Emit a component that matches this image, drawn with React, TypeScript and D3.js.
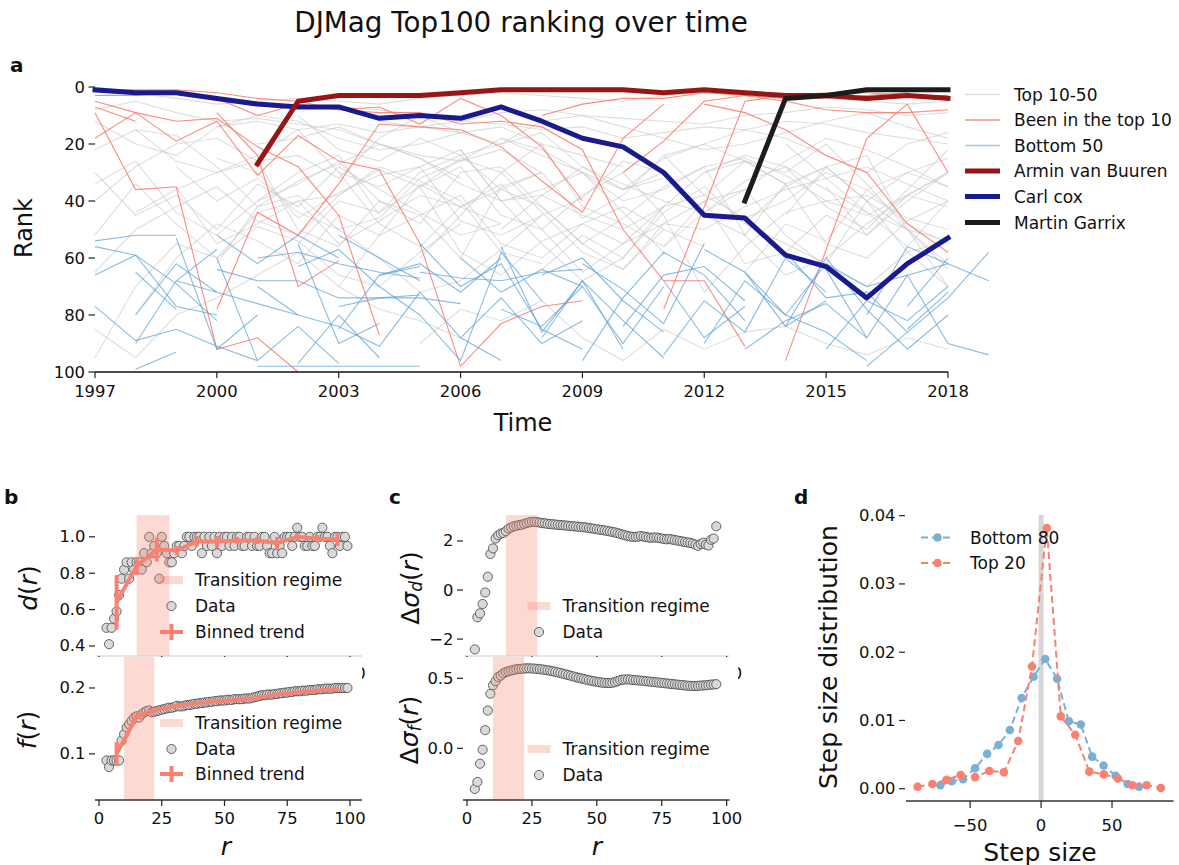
import React from "react";
import * as d3 from "d3";

const FONT = "'DejaVu Sans', sans-serif";
const SALMON = "#fa8072";
const TICK_FS = 16.4;
const LEG_FS = 17;
const LABEL_FS = 25;

// ---------- panel a: ranking over time ----------
const yearTicks = [1997, 2000, 2003, 2006, 2009, 2012, 2015, 2018];
const rankTicks = [0, 20, 40, 60, 80, 100];

// each row: [first year, rank, rank, ...]
const arminRow = [2001, 27, 5, 3, 3, 3, 2, 1, 1, 1, 1, 2, 1, 2, 3, 3, 4, 3, 4];
const carlRow = [1997, 1, 2, 2, 4, 6, 7, 7, 11, 10, 11, 7, 12, 18, 21, 30, 45, 46, 59, 63, 74, 62, 53];
const garrixRow = [2013, 40, 4, 3, 1, 1, 1];

const top1050Rows = [
  [1997, 22, 15, 26, 30, 24, 15, 30, 35, 28, 22, 40, 38, 45, 50, 42],
  [1997, 30, 45, 38, 50, 34, 42, 28, 36, 44, 52, 48],
  [1997, 40, 28, 20, 18, 26, 24, 32, 18, 10, 16, 14, 20, 24, 28],
  [1997, 52, 34, 48, 60, 44, 40, 55, 47, 38, 42],
  [1997, 65, 50, 42, 35, 47, 52, 38, 28, 33, 40, 58, 62],
  [1997, 95, 70, 55, 60, 49, 54, 66, 70, 58, 48],
  [1997, 12, 20, 24, 14, 10, 12, 18, 22, 20, 16],
  [1997, 8, 5, 9, 12, 11, 13, 15, 20, 24, 26, 18, 24, 30],
  [1997, 3, 2, 4, 6, 5, 4, 5, 6, 4, 3, 2, 3, 4, 5, 3, 2, 2, 3, 4, 5, 6, 5],
  [1997, 85, 95, 80, 74, 66, 58, 70, 78, 82, 88],
  [1997, 34, 26, 44, 52, 40, 30, 24, 45],
  [1998, 15, 17, 28, 42, 33, 27, 20, 25, 32],
  [1998, 44, 36, 30, 26, 50, 56, 40, 45, 60, 35, 30],
  [1998, 80, 60, 48, 54, 62, 45, 52, 34, 42, 48],
  [1999, 35, 55, 48, 40, 38, 29, 35, 58, 66, 54, 48],
  [1999, 28, 40, 32, 44, 50, 46, 32, 26, 22, 30],
  [2000, 25, 30, 46, 37, 31, 28, 47, 52, 45, 39, 26, 30],
  [2000, 62, 42, 38, 50, 60, 72, 68, 57, 45],
  [2000, 14, 12, 15, 13, 16, 14, 12, 13, 15, 14, 18, 16, 14, 15, 12, 13, 16, 18, 20],
  [2001, 40, 34, 26, 40, 48, 30, 28, 42, 55, 64, 50],
  [2001, 20, 18, 14, 20, 25, 34, 40, 36, 30, 44, 58],
  [2002, 55, 40, 44, 35, 28, 45, 50, 65, 55, 48, 40],
  [2002, 10, 22, 26, 18, 24, 20, 16, 28, 36, 32],
  [2003, 30, 48, 56, 42, 36, 30, 46, 38, 24, 20, 26, 34],
  [2003, 70, 52, 45, 38, 55, 60, 48, 42, 50, 56],
  [2003, 7, 8, 10, 12, 9, 8, 10, 11, 12, 13, 10, 9, 7, 8, 10, 9],
  [2004, 44, 30, 24, 36, 42, 55, 46, 35, 28, 25, 31, 40, 45, 38, 30],
  [2004, 12, 14, 16, 20, 12, 10, 14, 18, 22, 20, 16, 12, 9, 14, 18],
  [2005, 60, 45, 30, 20, 42, 48, 56, 40, 36, 52, 63, 70, 58, 54],
  [2005, 35, 25, 30, 44, 58, 64, 48, 50, 42, 36, 32, 28, 34, 40],
  [2005, 90, 78, 82, 75, 88, 96, 85, 92, 86, 84, 90, 94, 88, 92],
  [2006, 42, 34, 50, 38, 30, 45, 72, 56, 44, 40, 38, 46, 50],
  [2006, 22, 40, 55, 68, 60, 42, 30, 24, 28, 36, 44, 50, 54],
  [2007, 50, 38, 28, 34, 40, 44, 36, 26, 18, 22, 28, 35],
  [2007, 18, 22, 30, 36, 25, 20, 15, 18, 24, 30, 20, 16],
  [2008, 64, 52, 60, 44, 35, 48, 55, 62, 40, 30, 35],
  [2009, 30, 40, 36, 28, 52, 66, 60, 48, 38, 42],
  [2009, 48, 55, 42, 38, 26, 30, 20, 34, 50, 64],
  [2010, 36, 30, 45, 52, 34, 28, 40, 58, 70],
  [2011, 24, 38, 46, 40, 30, 36, 48, 55],
  [2011, 56, 44, 33, 28, 42, 50, 36, 22],
  [2012, 40, 62, 58, 45, 52, 38, 30],
  [2012, 30, 26, 34, 55, 60, 47, 40],
  [2013, 48, 35, 28, 40, 50, 62],
  [2013, 65, 48, 54, 36, 30, 25],
  [2014, 20, 32, 44, 56, 40],
  [2014, 45, 28, 24, 50, 70],
  [2015, 35, 52, 40, 30],
];

const top10Rows = [
  [1997, 1, 1, 1, 2, 4, 5, 8, 9, 9, 13, 12, 14, 22, 50, 68, 68, 91],
  [1997, 3, 3, 2, 4, 10, 6, 8, 7, 13, 4, 10, 21, 40],
  [1997, 5, 9, 12, 11, 21, 28, 45, 87],
  [1997, 18, 9, 19, 12, 31, 17, 26, 29, 55, 98, 83, 77, 75],
  [1997, 9, 36, 35, 92, 88, 100],
  [1997, 7, 12],
  [2000, 9, 24, 70, 61],
  [2000, 78, 44, 52, 34, 13, 14, 15, 21, 33, 44, 18, 6],
  [2008, 10, 6, 4, 4, 2, 3, 5, 8, 9, 9, 8],
  [2011, 78, 42, 5, 3, 2, 2, 3, 3],
  [2012, 6, 9, 15, 24, 30, 48, 58],
  [2014, 96, 57, 18, 6, 30],
  [2010, 30, 19, 5, 3, 4, 4, 3, 2],
];

const bottom50Rows = [
  [1997, 54, 52, 52],
  [1997, 56, 59, 77, 80],
  [1997, 66, 59, 69, 82],
  [1997, 77, 89, 85, 91, 96],
  [1998, 65, 78],
  [1998, 90, 68, 57],
  [1998, 99, 93],
  [1998, 80, 62, 72],
  [1999, 53, 92, 80],
  [1999, 68, 72, 76, 80, 84, 91],
  [2000, 52, 62, 52, 60],
  [2000, 60, 96, 84, 97],
  [2000, 64, 68, 68, 74, 74, 73],
  [2001, 60, 58, 62, 65, 67],
  [2001, 98, 98, 98, 98, 98],
  [2001, 70, 80],
  [2002, 55, 90, 83],
  [2002, 97, 80, 95],
  [2002, 63, 57, 70, 80],
  [2003, 77, 74, 74, 76],
  [2003, 85, 66, 63],
  [2003, 52, 60, 68],
  [2004, 66, 62, 72, 60],
  [2004, 91, 72, 88, 96],
  [2005, 55, 70, 62, 85, 92],
  [2005, 80, 96, 58, 75],
  [2005, 65, 67, 68, 65, 64],
  [2006, 88, 74, 90, 82],
  [2006, 60, 72, 64, 70],
  [2007, 56, 86, 68, 92],
  [2007, 78, 84, 70, 90, 70],
  [2008, 66, 60, 75, 86],
  [2008, 88, 68, 82, 95],
  [2009, 62, 71, 83, 55],
  [2009, 96, 74, 58, 66, 82],
  [2010, 84, 66, 63, 75],
  [2011, 68, 88, 77],
  [2011, 94, 75, 86, 60, 72],
  [2012, 57, 65, 84, 75],
  [2012, 90, 68, 80, 86, 96],
  [2013, 65, 80, 62, 70],
  [2013, 92, 82, 76, 88],
  [2014, 58, 74, 72, 86],
  [2014, 84, 60, 78, 92, 80],
  [2015, 64, 88, 66, 62],
  [2015, 92, 75, 82, 70],
  [2016, 80, 56, 62, 68],
  [2016, 98, 86, 74, 58],
  [2016, 70, 66, 90, 94],
  [2017, 77, 60],
  [2017, 85, 72],
];

// ---------- panel b ----------
const rTicks = [0, 25, 50, 75, 100];
const rB = d3.range(3, 100);
const dValues = [
  0.50, 0.41, 0.50, 0.55, 0.59, 0.68, 0.77, 0.82, 0.86, 0.77,
  0.86, 0.82, 0.86, 0.86, 0.82, 0.91, 0.86, 1.00, 0.91, 0.95,
  0.91, 0.77, 1.00, 0.95, 0.91, 0.86, 0.86, 0.91, 0.95, 0.95,
  0.91, 0.95, 1.00, 1.00, 0.95, 1.00, 1.00, 1.00, 0.91, 1.00,
  0.95, 1.00, 0.95, 1.00, 0.91, 1.00, 0.95, 1.00, 1.00, 0.95,
  1.00, 0.95, 1.00, 1.00, 0.95, 0.95, 1.00, 1.00, 0.95, 1.00,
  0.95, 0.95, 1.00, 1.00, 0.95, 0.91, 0.91, 1.00, 0.91, 0.95,
  0.91, 1.00, 1.00, 1.00, 0.95, 1.00, 1.05, 1.00, 1.00, 0.95,
  0.95, 1.00, 0.95, 0.95, 1.00, 1.00, 1.05, 1.00, 1.00, 0.95,
  0.91, 1.00, 1.00, 0.95, 1.00, 1.00, 0.95,
];
const fValues = [
  0.09, 0.08, 0.09, 0.09, 0.09, 0.09, 0.12, 0.13, 0.14, 0.145,
  0.15, 0.155, 0.157, 0.155, 0.16, 0.163, 0.165, 0.166, 0.163, 0.164,
  0.165, 0.166, 0.167, 0.168, 0.169, 0.17, 0.17, 0.171, 0.173, 0.172,
  0.172, 0.173, 0.174, 0.174, 0.175, 0.176, 0.176, 0.177, 0.177, 0.178,
  0.178, 0.179, 0.179, 0.18, 0.18, 0.181, 0.181, 0.181, 0.182, 0.182,
  0.182, 0.183, 0.183, 0.183, 0.183, 0.184, 0.184, 0.184, 0.185, 0.186,
  0.187, 0.188, 0.189, 0.189, 0.19, 0.19, 0.19, 0.191, 0.191, 0.192,
  0.192, 0.193, 0.193, 0.194, 0.194, 0.195, 0.195, 0.195, 0.196, 0.196,
  0.196, 0.197, 0.197, 0.197, 0.198, 0.198, 0.198, 0.199, 0.199, 0.199,
  0.199, 0.2, 0.2, 0.2, 0.2, 0.2, 0.2,
];
const binR = [7, 15, 23, 31, 39, 47, 55, 63, 71, 79, 87, 95];
const binD = [0.64, 0.84, 0.93, 0.925, 0.975, 0.975, 0.98, 0.98, 0.965, 1.0, 0.99, 0.985];
const binDErr = [0.15, 0.05, 0.065, 0.025, 0.03, 0.03, 0.02, 0.02, 0.035, 0.02, 0.02, 0.035];
const binF = [0.1, 0.157, 0.167, 0.173, 0.177, 0.18, 0.182, 0.185, 0.19, 0.193, 0.196, 0.198];
const binFErr = [0.018, 0.004, 0.003, 0.002, 0.002, 0.002, 0.002, 0.002, 0.002, 0.002, 0.002, 0.002];
const regimeUpper = [15, 28];
const regimeLower = [10, 22];

// ---------- panel c ----------
const rC = d3.range(3, 97);
const sigmaD = [
  -2.42, -1.11, -0.95, -0.57, -0.10, 0.54, 1.47, 1.70, 2.10, 2.23,
  2.30, 2.33, 2.40, 2.50, 2.55, 2.60, 2.62, 2.65, 2.66, 2.70,
  2.73, 2.76, 2.78, 2.78, 2.77, 2.75, 2.73, 2.72, 2.70, 2.69,
  2.68, 2.67, 2.66, 2.65, 2.64, 2.63, 2.62, 2.61, 2.60, 2.59,
  2.58, 2.57, 2.56, 2.55, 2.53, 2.51, 2.50, 2.48, 2.46, 2.45,
  2.43, 2.41, 2.39, 2.37, 2.35, 2.32, 2.29, 2.26, 2.23, 2.20,
  2.18, 2.17, 2.17, 2.18, 2.20, 2.18, 2.16, 2.14, 2.13, 2.14,
  2.14, 2.12, 2.10, 2.08, 2.07, 2.08, 2.06, 2.04, 2.02, 2.00,
  1.98, 1.96, 1.94, 1.92, 1.89, 1.85, 1.80, 1.88, 1.93, 1.85,
  1.82, 2.05, 2.10, 2.60,
];
const sigmaF = [
  -0.29, -0.24, -0.11, -0.01, 0.13, 0.27, 0.39, 0.45, 0.48, 0.51,
  0.52, 0.535, 0.545, 0.55, 0.555, 0.56, 0.565, 0.567, 0.568, 0.57,
  0.571, 0.571, 0.57, 0.569, 0.567, 0.565, 0.563, 0.56, 0.557, 0.554,
  0.55, 0.546, 0.542, 0.538, 0.533, 0.528, 0.523, 0.518, 0.513, 0.508,
  0.503, 0.499, 0.495, 0.49, 0.486, 0.482, 0.478, 0.475, 0.472, 0.469,
  0.467, 0.466, 0.466, 0.468, 0.473, 0.48, 0.487, 0.49, 0.492, 0.492,
  0.49, 0.488, 0.487, 0.485, 0.483, 0.481, 0.479, 0.477, 0.475, 0.473,
  0.471, 0.469, 0.467, 0.465, 0.463, 0.461, 0.459, 0.457, 0.455, 0.453,
  0.451, 0.449, 0.447, 0.446, 0.445, 0.445, 0.446, 0.448, 0.449, 0.45,
  0.452, 0.455, 0.456, 0.458,
];

// ---------- panel d ----------
const bottom80Steps = [-71, -63, -55, -46.5, -38, -30, -22, -13.7, -5.3, 2.9, 11.3, 19.5, 28, 36, 44, 52.5, 61, 69];
const bottom80Dens = [0.0005, 0.0011, 0.0014, 0.003, 0.0051, 0.0064, 0.0086, 0.0133, 0.0164, 0.019, 0.0161, 0.0099, 0.0094, 0.0047, 0.0034, 0.0019, 0.0007, 0.0003];
const top20Steps = [-87, -76.6, -66.6, -56.7, -46.5, -36.4, -26.2, -16.1, -6.4, 4, 13.9, 24.1, 34, 44.2, 54.2, 64.3, 74.4, 84.4];
const top20Dens = [0.0003, 0.0007, 0.0013, 0.002, 0.0017, 0.0026, 0.0024, 0.007, 0.0179, 0.0382, 0.0106, 0.0079, 0.0025, 0.0021, 0.0015, 0.0005, 0.0005, 0.0001];
const stepTicks = [-50, 0, 50];
const densTicks = [0, 0.01, 0.02, 0.03, 0.04];

const minus = (s: string) => s.replace("-", "\u2212");

type Scale = d3.ScaleLinear<number, number>;

function LeftTicks({ scale, values, x0, fmt, len = 6 }: { scale: Scale; values: number[]; x0: number; fmt: (v: number) => string; len?: number }) {
  return (
    <g>
      {values.map((v) => (
        <g key={v}>
          <line x1={x0 - len} x2={x0} y1={scale(v)} y2={scale(v)} stroke="#222" strokeWidth={1.2} />
          <text x={x0 - len - 3.5} y={scale(v)} textAnchor="end" dominantBaseline="central" fontSize={TICK_FS}>
            {fmt(v)}
          </text>
        </g>
      ))}
    </g>
  );
}

function BottomTicks({ scale, values, y0, fmt, len = 6, gap = 19 }: { scale: Scale; values: number[]; y0: number; fmt: (v: number) => string; len?: number; gap?: number }) {
  return (
    <g>
      {values.map((v) => (
        <g key={v}>
          <line x1={scale(v)} x2={scale(v)} y1={y0} y2={y0 + len} stroke="#222" strokeWidth={1.2} />
          <text x={scale(v)} y={y0 + gap} textAnchor="middle" dominantBaseline="central" fontSize={TICK_FS}>
            {fmt(v)}
          </text>
        </g>
      ))}
    </g>
  );
}

function Dots({ xs, ys, x, y }: { xs: number[]; ys: number[]; x: Scale; y: Scale }) {
  return (
    <g>
      {xs.map((r, i) => (
        <circle key={r} cx={x(r)} cy={y(ys[i])} r={4.6} fill="#d9d9d9" stroke="#454545" strokeWidth={0.8} />
      ))}
    </g>
  );
}

function Binned({ xs, ys, errs, x, y }: { xs: number[]; ys: number[]; errs: number[]; x: Scale; y: Scale }) {
  const path = d3.line<number>().x((r) => x(r)).y((_, i) => y(ys[i]))(xs) || "";
  return (
    <g stroke={SALMON} strokeWidth={4} fill="none">
      <path d={path} strokeLinejoin="round" />
      {xs.map((r, i) => (
        <line key={r} x1={x(r)} x2={x(r)} y1={y(ys[i] - errs[i])} y2={y(ys[i] + errs[i])} />
      ))}
    </g>
  );
}

function Legend({ x, ys, labels, kinds }: { x: number; ys: number[]; labels: string[]; kinds: string[] }) {
  return (
    <g>
      {labels.map((lab, i) => {
        const cy = ys[i];
        let handle: React.ReactNode = null;
        if (kinds[i] === "band") {
          handle = <rect x={x} y={cy - 4} width={23} height={8} fill={SALMON} opacity={0.3} />;
        } else if (kinds[i] === "dot") {
          handle = <circle cx={x + 11.5} cy={cy} r={4.6} fill="#d9d9d9" stroke="#454545" strokeWidth={0.8} />;
        } else {
          handle = (
            <g stroke={SALMON} strokeWidth={4}>
              <line x1={x} x2={x + 23} y1={cy} y2={cy} />
              <line x1={x + 11.5} x2={x + 11.5} y1={cy - 8} y2={cy + 8} />
            </g>
          );
        }
        return (
          <g key={lab}>
            {handle}
            <text x={x + 35} y={cy} dominantBaseline="central" fontSize={LEG_FS}>
              {lab}
            </text>
          </g>
        );
      })}
    </g>
  );
}

function Band({ x, lo, hi, top, bottom }: { x: Scale; lo: number; hi: number; top: number; bottom: number }) {
  return <rect x={x(lo)} y={top} width={x(hi) - x(lo)} height={bottom - top} fill={SALMON} opacity={0.3} />;
}

export default function App() {
  // panel a scales
  const xa = d3.scaleLinear().domain([1997, 2018]).range([95, 948]);
  const ya = d3.scaleLinear().domain([0, 100]).range([87, 372]);
  const rowPath = (row: number[]) =>
    d3.line()(row.slice(1).map((r, i) => [xa(row[0] + i), ya(r)] as [number, number])) || "";

  // panel b scales
  const xb = d3.scaleLinear().domain([-1.6, 104.8]).range([95, 362]);
  const ybU = d3.scaleLinear().domain([0.345, 1.12]).range([656, 515]);
  const ybL = d3.scaleLinear().domain([0.03, 0.247]).range([800, 657]);

  // panel c scales
  const xc = d3.scaleLinear().domain([-1.55, 101.1]).range([463, 729.5]);
  const ycU = d3.scaleLinear().domain([-2.69, 3.06]).range([656, 515]);
  const ycL = d3.scaleLinear().domain([-0.369, 0.652]).range([800, 657]);

  // panel d scales
  const xd = d3.scaleLinear().domain([-95.2, 93.4]).range([906, 1173.6]);
  const yd = d3.scaleLinear().domain([-0.0018, 0.0401]).range([801, 515]);
  const lineD = (xs: number[], ys: number[]) =>
    d3.line<number>().x((s) => xd(s)).y((_, i) => yd(ys[i]))(xs) || "";

  const legendA = [
    { label: "Top 10-50", color: "#c8c8c8", w: 1.5, op: 0.55 },
    { label: "Been in the top 10", color: SALMON, w: 1.5, op: 0.9 },
    { label: "Bottom 50", color: "#5a9fd4", w: 1.5, op: 0.55 },
    { label: "Armin van Buuren", color: "#961616", w: 5, op: 1 },
    { label: "Carl cox", color: "#1a1a8f", w: 5, op: 1 },
    { label: "Martin Garrix", color: "#1c1c1c", w: 5, op: 1 },
  ];
  const legendAY = [94.5, 120, 145.5, 171, 196.5, 222.5];

  const f1 = (v: number) => v.toFixed(1);
  const f0 = (v: number) => minus(String(v));
  const f2 = (v: number) => v.toFixed(2);
  const fr = (v: number) => String(v);

  return (
    <svg
      width={1179}
      height={865}
      style={{ position: "absolute", left: 0, top: 0, background: "#fff" }}
      fontFamily={FONT}
      fill="#111"
    >
      <rect x={0} y={0} width={1179} height={865} fill="#fff" />
      <text x={521} y={22} textAnchor="middle" dominantBaseline="central" fontSize={27.8}>
        DJMag Top100 ranking over time
      </text>

      {/* ---------------- panel a ---------------- */}
      <text x={10} y={65} dominantBaseline="central" fontSize={20} fontWeight="bold">a</text>
      <g fill="none">
        {top1050Rows.map((row, i) => (
          <path key={"g" + i} d={rowPath(row)} stroke="#c8c8c8" strokeWidth={1.1} opacity={0.6} />
        ))}
        {top10Rows.map((row, i) => (
          <path key={"r" + i} d={rowPath(row)} stroke={SALMON} strokeWidth={1.1} opacity={0.9} />
        ))}
        {bottom50Rows.map((row, i) => (
          <path key={"b" + i} d={rowPath(row)} stroke="#5a9fd4" strokeWidth={1.1} opacity={0.7} />
        ))}
        <path d={rowPath(carlRow)} stroke="#1a1a8f" strokeWidth={5} strokeLinejoin="round" strokeLinecap="square" />
        <path d={rowPath(arminRow)} stroke="#961616" strokeWidth={5} strokeLinejoin="round" strokeLinecap="square" />
        <path d={rowPath(garrixRow)} stroke="#1c1c1c" strokeWidth={5} strokeLinejoin="round" strokeLinecap="square" />
      </g>
      <line x1={95} x2={948} y1={372} y2={372} stroke="#111" strokeWidth={1.3} />
      <LeftTicks scale={ya} values={rankTicks} x0={95} fmt={fr} len={6.5} />
      <BottomTicks scale={xa} values={yearTicks} y0={372} fmt={fr} gap={19.5} />
      <text x={523} y={423} textAnchor="middle" dominantBaseline="central" fontSize={24}>Time</text>
      <text x={24} y={228} textAnchor="middle" dominantBaseline="central" fontSize={24} transform="rotate(-90,24,228)">
        Rank
      </text>
      {legendA.map((l, i) => (
        <g key={l.label}>
          <line x1={965} x2={1000} y1={legendAY[i]} y2={legendAY[i]} stroke={l.color} strokeWidth={l.w} opacity={l.op} />
          <text x={1014} y={legendAY[i]} dominantBaseline="central" fontSize={LEG_FS}>{l.label}</text>
        </g>
      ))}

      {/* ---------------- panel b ---------------- */}
      <text x={4} y={497} dominantBaseline="central" fontSize={20} fontWeight="bold">b</text>
      {/* upper: d(r) */}
      <Dots xs={rB} ys={dValues} x={xb} y={ybU} />
      <Band x={xb} lo={regimeUpper[0]} hi={regimeUpper[1]} top={515} bottom={656} />
      <Binned xs={binR} ys={binD} errs={binDErr} x={xb} y={ybU} />
      <line x1={95} x2={362} y1={656} y2={656} stroke="#cfcfcf" strokeWidth={1} />
      <LeftTicks scale={ybU} values={[0.4, 0.6, 0.8, 1.0]} x0={95} fmt={f1} />
      <BottomTicks scale={xb} values={rTicks} y0={656} fmt={fr} gap={17} />
      <Legend x={160} ys={[580, 606, 632]} labels={["Transition regime", "Data", "Binned trend"]} kinds={["band", "dot", "bin"]} />
      <text x={28} y={588} textAnchor="middle" dominantBaseline="central" fontSize={LABEL_FS} transform="rotate(-90,28,588)">
        <tspan fontStyle="italic">d</tspan>(<tspan fontStyle="italic">r</tspan>)
      </text>
      {/* lower: f(r) */}
      <rect x={89} y={657} width={273} height={143} fill="#fff" />
      <Dots xs={rB} ys={fValues} x={xb} y={ybL} />
      <Band x={xb} lo={regimeLower[0]} hi={regimeLower[1]} top={657} bottom={800} />
      <Binned xs={binR} ys={binF} errs={binFErr} x={xb} y={ybL} />
      <line x1={95} x2={362} y1={800} y2={800} stroke="#333" strokeWidth={1.3} />
      <LeftTicks scale={ybL} values={[0.1, 0.2]} x0={95} fmt={f1} />
      <BottomTicks scale={xb} values={rTicks} y0={800} fmt={fr} gap={18} />
      <Legend x={160} ys={[723, 749, 774]} labels={["Transition regime", "Data", "Binned trend"]} kinds={["band", "dot", "bin"]} />
      <text x={27} y={730} textAnchor="middle" dominantBaseline="central" fontSize={LABEL_FS} transform="rotate(-90,27,730)">
        <tspan fontStyle="italic">f</tspan>(<tspan fontStyle="italic">r</tspan>)
      </text>
      <text x={226} y={846} textAnchor="middle" dominantBaseline="central" fontSize={LABEL_FS} fontStyle="italic">r</text>

      {/* ---------------- panel c ---------------- */}
      <text x={389} y={497} dominantBaseline="central" fontSize={20} fontWeight="bold">c</text>
      <Dots xs={rC} ys={sigmaD} x={xc} y={ycU} />
      <Band x={xc} lo={regimeUpper[0]} hi={27} top={515} bottom={656} />
      <line x1={463} x2={729.5} y1={656} y2={656} stroke="#cfcfcf" strokeWidth={1} />
      <LeftTicks scale={ycU} values={[-2, 0, 2]} x0={463} fmt={f0} />
      <BottomTicks scale={xc} values={rTicks} y0={656} fmt={fr} gap={17} />
      <Legend x={527.5} ys={[606, 632]} labels={["Transition regime", "Data"]} kinds={["band", "dot"]} />
      <text x={410} y={588} textAnchor="middle" dominantBaseline="central" fontSize={LABEL_FS} transform="rotate(-90,410,588)">
        Δ<tspan fontStyle="italic">σ</tspan>
        <tspan fontStyle="italic" fontSize={17} dy={6}>d</tspan>
        <tspan dy={-6}>(</tspan>
        <tspan fontStyle="italic">r</tspan>)
      </text>
      <rect x={457} y={657} width={281} height={143} fill="#fff" />
      <Dots xs={rC} ys={sigmaF} x={xc} y={ycL} />
      <Band x={xc} lo={regimeLower[0]} hi={regimeLower[1]} top={657} bottom={800} />
      <line x1={463} x2={729.5} y1={800} y2={800} stroke="#333" strokeWidth={1.3} />
      <LeftTicks scale={ycL} values={[0, 0.5]} x0={463} fmt={f1} />
      <BottomTicks scale={xc} values={rTicks} y0={800} fmt={fr} gap={18} />
      <Legend x={527.5} ys={[749, 775]} labels={["Transition regime", "Data"]} kinds={["band", "dot"]} />
      <text x={409} y={730} textAnchor="middle" dominantBaseline="central" fontSize={LABEL_FS} transform="rotate(-90,409,730)">
        Δ<tspan fontStyle="italic">σ</tspan>
        <tspan fontStyle="italic" fontSize={17} dy={6}>f</tspan>
        <tspan dy={-6}>(</tspan>
        <tspan fontStyle="italic">r</tspan>)
      </text>
      <text x={597} y={846} textAnchor="middle" dominantBaseline="central" fontSize={LABEL_FS} fontStyle="italic">r</text>

      {/* ---------------- panel d ---------------- */}
      <text x={794} y={497} dominantBaseline="central" fontSize={20} fontWeight="bold">d</text>
      <line x1={xd(0)} x2={xd(0)} y1={515} y2={801} stroke="#d6d6d6" strokeWidth={5} />
      <path d={lineD(bottom80Steps, bottom80Dens)} fill="none" stroke="#7bb0d6" strokeWidth={2} strokeDasharray="7,4" />
      {bottom80Steps.map((s, i) => (
        <circle key={"b" + s} cx={xd(s)} cy={yd(bottom80Dens[i])} r={4.3} fill="#7bb0d6" />
      ))}
      <path d={lineD(top20Steps, top20Dens)} fill="none" stroke={SALMON} strokeWidth={2} strokeDasharray="7,4" />
      {top20Steps.map((s, i) => (
        <circle key={"t" + s} cx={xd(s)} cy={yd(top20Dens[i])} r={4.3} fill={SALMON} />
      ))}
      <line x1={906} x2={1173.6} y1={801} y2={801} stroke="#333" strokeWidth={1.3} />
      <LeftTicks scale={yd} values={densTicks} x0={905} fmt={f2} />
      <BottomTicks scale={xd} values={stepTicks} y0={801} fmt={f0} len={7} gap={24} />
      {[
        { label: "Bottom 80", color: "#7bb0d6", y: 537.5 },
        { label: "Top 20", color: SALMON, y: 563 },
      ].map((l) => (
        <g key={l.label}>
          <line x1={921} x2={954} y1={l.y} y2={l.y} stroke={l.color} strokeWidth={2} strokeDasharray="7,4" />
          <circle cx={937.5} cy={l.y} r={4.3} fill={l.color} />
          <text x={970} y={l.y} dominantBaseline="central" fontSize={LEG_FS}>{l.label}</text>
        </g>
      ))}
      <text x={1040} y={852} textAnchor="middle" dominantBaseline="central" fontSize={LABEL_FS}>Step size</text>
      <text x={828} y={657} textAnchor="middle" dominantBaseline="central" fontSize={LABEL_FS} transform="rotate(-90,828,657)">
        Step size distribution
      </text>
    </svg>
  );
}
